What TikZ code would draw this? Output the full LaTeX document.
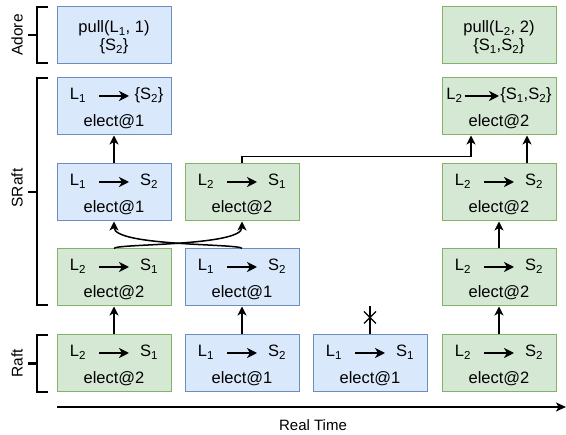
\documentclass[tikz,border=0pt]{standalone}
\usepackage{fontspec}
\setmainfont{Liberation Sans}
\usetikzlibrary{arrows.meta}
\definecolor{bfill}{HTML}{DAE8FC}
\definecolor{bdraw}{HTML}{6C8EBF}
\definecolor{gfill}{HTML}{D5E8D4}
\definecolor{gdraw}{HTML}{82B366}
\tikzset{
 box/.style={rectangle, minimum width=114pt, minimum height=57pt, inner sep=0pt, line width=1pt},
 bbox/.style={box, fill=bfill, draw=bdraw},
 gbox/.style={box, fill=gfill, draw=gdraw},
 txt/.style={inner sep=0pt, font=\fontsize{16.5}{19.8}\selectfont, anchor=base},
 inarr/.style={line width=2pt, -{Stealth[length=10pt,width=10pt,inset=3pt]}},
 link/.style={line width=1.5pt, -{Stealth[length=9pt,width=9pt,inset=2.5pt]}},
 brk/.style={line width=2.5pt},
 lab/.style={font=\fontsize{15.5}{18}\selectfont, rotate=90, inner sep=0pt},
}
\newcommand\rcell[7]{%
 \node[#4] (#1) at (#2,#3) {};
 \node[txt] (#1-l) at ([xshift=-36pt,yshift=7pt]#1.center) {#5};
 \node[txt] (#1-s) at ([xshift=35pt,yshift=7pt]#1.center) {#6};
 \node[txt] (#1-e) at ([yshift=-20.5pt]#1.center) {#7};
 \draw[inarr] ([xshift=-15pt,yshift=10.5pt]#1.center) -- ([xshift=15pt,yshift=10.5pt]#1.center);
}
\newcommand\Lone{L\textsubscript{1}}
\newcommand\Ltwo{L\textsubscript{2}}
\newcommand\Sone{S\textsubscript{1}}
\newcommand\Stwo{S\textsubscript{2}}
\begin{document}
\begin{tikzpicture}[x=1pt,y=-1pt]
\useasboundingbox (0,0) rectangle (566,435);
% Adore
\node[bbox] (a1) at (114,35.5) {};
\node[txt] (a1-t) at ([yshift=3pt]a1.center) {pull(\Lone, 1)};
\node[txt] (a1-b) at ([yshift=-15pt]a1.center) {\{\Stwo\}};
\node[gbox] (a4) at (499,35.5) {};
\node[txt] (a4-t) at ([yshift=3pt]a4.center) {pull(\Ltwo, 2)};
\node[txt] (a4-b) at ([yshift=-15pt]a4.center) {\{\Sone,\Stwo\}};
% SRaft row 2
\rcell{s1}{114}{106.5}{bbox}{\Lone}{\{\Stwo\}}{elect@1}
\node[gbox] (s4) at (499,106.5) {};
\node[txt] (s4-l) at ([xshift=-44.5pt,yshift=7pt]s4.center) {\Ltwo};
\node[txt] (s4-s) at ([xshift=27pt,yshift=7pt]s4.center) {\{\Sone,\Stwo\}};
\node[txt] (s4-e) at ([yshift=-20.5pt]s4.center) {elect@2};
\draw[inarr] ([xshift=-34.5pt,yshift=10.5pt]s4.center) -- ([xshift=0pt,yshift=10.5pt]s4.center);
% row 3
\rcell{m1}{114}{192.5}{bbox}{\Lone}{\Stwo}{elect@1}
\rcell{m2}{242}{192.5}{gbox}{\Ltwo}{\Sone}{elect@2}
\rcell{m4}{499}{192.5}{gbox}{\Ltwo}{\Stwo}{elect@2}
% row 4
\rcell{n1}{114}{277.5}{gbox}{\Ltwo}{\Sone}{elect@2}
\rcell{n2}{242}{277.5}{bbox}{\Lone}{\Stwo}{elect@1}
\rcell{n4}{499}{277.5}{gbox}{\Ltwo}{\Stwo}{elect@2}
% Raft row 5
\rcell{r1}{114}{363.5}{gbox}{\Ltwo}{\Sone}{elect@2}
\rcell{r2}{242}{363.5}{bbox}{\Lone}{\Stwo}{elect@1}
\rcell{r3}{370}{363.5}{bbox}{\Lone}{\Sone}{elect@1}
\rcell{r4}{499}{363.5}{gbox}{\Ltwo}{\Stwo}{elect@2}
% links
\draw[link] (r1.north) -- (n1.south);
\draw[link] (r2.north) -- (n2.south);
\draw[link] (r4.north) -- (n4.south);
\draw[link] (n4.north) -- (m4.south);
\draw[link] (m1.north) -- (s1.south);
\draw[link] ([xshift=28pt]m4.north) -- ([xshift=28pt]s4.south);
\draw[link] (m2.north) -- ++(0,-7) -| ([xshift=-28pt]s4.south);
\draw[link] (n1.north) .. controls ([yshift=5pt]n1.north) and ([yshift=-25pt]m2.south) .. (m2.south);
\draw[link] (n2.north) .. controls ([yshift=5pt]n2.north) and ([yshift=-25pt]m1.south) .. (m1.south);
% failed message
\coordinate (xm) at ([yshift=28pt]r3.north);
\coordinate (xc) at ([yshift=17pt]r3.north);
\draw[line width=1.5pt] (r3.north) -- (xm);
\draw[line width=1.2pt] (xc) +(-6,-6) -- +(6,6) (xc) +(-6,6) -- +(6,-6);
% brackets
\draw[brk] (48,7) -- (37,7) -- (37,63) -- (48,63);
\draw[brk] (28,35) -- (37,35);
\draw[brk] (48,78) -- (37,78) -- (37,305) -- (48,305);
\draw[brk] (28,192) -- (37,192);
\draw[brk] (48,335) -- (37,335) -- (37,392) -- (48,392);
\draw[brk] (28,363.5) -- (37,363.5);
\node[lab] (ladore) at (17,35) {Adore};
\node[lab] (lsraft) at (17,188) {SRaft};
\node[lab] (lraft) at (17,363.5) {Raft};
% time axis
\coordinate (t0) at (57,407);
\coordinate (t1) at (566,407);
\draw[line width=1.5pt, -{Stealth[length=10pt,width=9pt,inset=2.5pt]}] (t0) -- (t1);
\node[font=\fontsize{15}{18}\selectfont, inner sep=0pt] (rt) at (313,425) {Real Time};
\end{tikzpicture}
\end{document}
